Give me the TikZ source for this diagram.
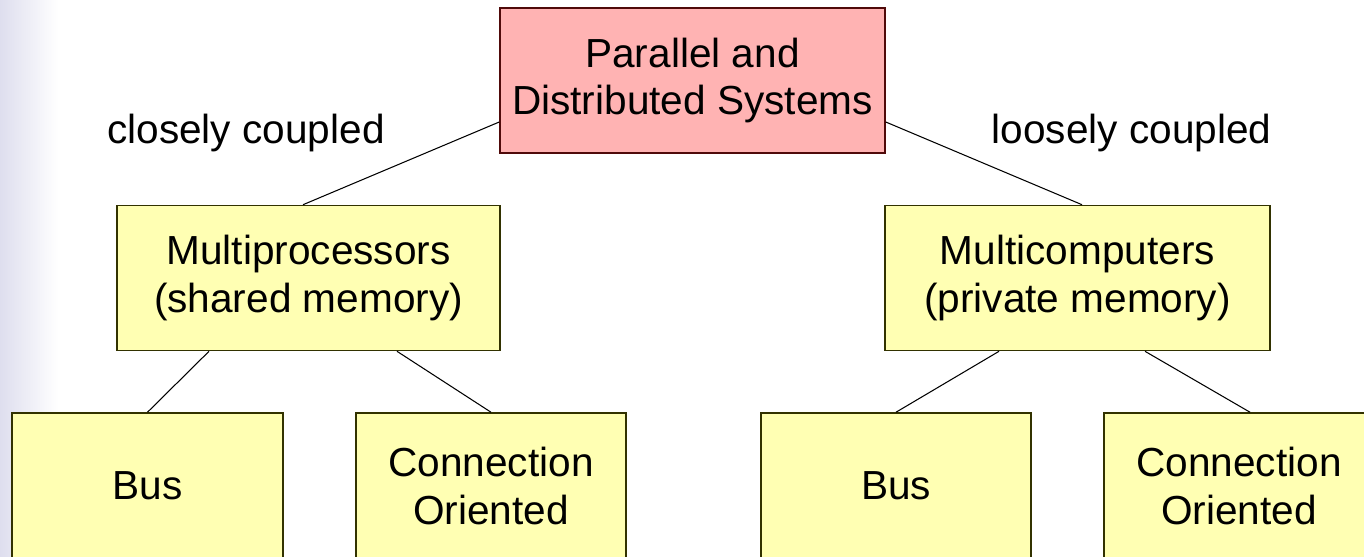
\documentclass[tikz,border=0pt]{standalone}
\usepackage{fontspec}
\setmainfont{Liberation Sans}
\definecolor{pinkfill}{RGB}{255,179,179}
\definecolor{pinkline}{RGB}{80,10,10}
\definecolor{yellowfill}{RGB}{255,255,179}
\definecolor{yellowline}{RGB}{50,50,0}
\definecolor{stripe}{RGB}{222,222,238}
\tikzset{
  txt/.style={font=\fontsize{23.1}{27.3}\selectfont, align=center, inner sep=0pt},
  rootbox/.style={txt, draw=pinkline, fill=pinkfill, line width=0.9pt,
                  minimum width=385*0.02cm, minimum height=145*0.02cm},
  leafbox/.style={txt, draw=yellowline, fill=yellowfill, line width=0.9pt,
                  minimum height=145*0.02cm},
  link/.style={draw=black, line width=0.6pt},
  caption/.style={txt, anchor=base}
}
\begin{document}
\begin{tikzpicture}[x=0.02cm, y=-0.02cm]
  \useasboundingbox (0,0) rectangle (1364,556);
  \clip (0,0) rectangle (1364,556);
  % soft band along the left edge
  \fill[left color=stripe, right color=white] (0,0) rectangle (58,556);

  % tree nodes
  \node[rootbox] (root) at (692.5,80.5) {Parallel and\\Distributed Systems};
  \node[leafbox, minimum width=383*0.02cm] (multip) at (308.5,278) {Multiprocessors\\(shared memory)};
  \node[leafbox, minimum width=385*0.02cm] (multic) at (1077.5,278) {Multicomputers\\(private memory)};
  \node[leafbox, minimum width=271*0.02cm] (busA) at (147.5,485.5) {Bus};
  \node[leafbox, minimum width=270*0.02cm] (connA) at (491,485.5) {Connection\\Oriented};
  \node[leafbox, minimum width=270*0.02cm] (busB) at (896,485.5) {Bus};
  \node[leafbox, minimum width=270*0.02cm] (connB) at (1239,485.5) {Connection\\Oriented};

  % branch labels
  \node[caption] (close) at (246,143) {closely coupled};
  \node[caption] (loose) at (1131.5,143) {loosely coupled};

  % connectors
  \draw[link] ([shift={(0,41.5)}]root.west) -- ([shift={(-5.5,0)}]multip.north);
  \draw[link] ([shift={(0,41.5)}]root.east) -- ([shift={(4.5,0)}]multic.north);
  \draw[link] ([shift={(-99.5,0)}]multip.south) -- (busA.north);
  \draw[link] ([shift={(88.5,0)}]multip.south) -- (connA.north);
  \draw[link] ([shift={(-78.5,0)}]multic.south) -- (busB.north);
  \draw[link] ([shift={(67.5,0)}]multic.south) -- ([shift={(11,0)}]connB.north);
\end{tikzpicture}
\end{document}
